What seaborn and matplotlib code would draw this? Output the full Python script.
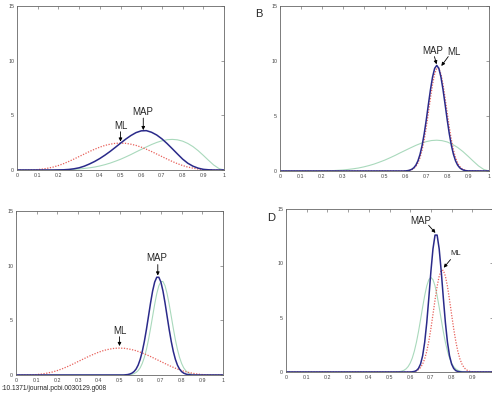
import matplotlib
matplotlib.use("Agg")
import matplotlib.pyplot as plt
import seaborn as sns

# sample positions
x_wide = [0.0, 0.025, 0.05, 0.075, 0.1, 0.125, 0.15, 0.175, 0.2, 0.225, 0.25, 0.275,
          0.3, 0.325, 0.35, 0.375, 0.4, 0.425, 0.45, 0.475, 0.5, 0.525, 0.55, 0.575,
          0.6, 0.625, 0.65, 0.675, 0.7, 0.725, 0.75, 0.775, 0.8, 0.825, 0.85, 0.875,
          0.9, 0.925, 0.95, 0.975, 1.0]
x_fine = [0.0, 0.5, 0.51, 0.52, 0.53, 0.54, 0.55, 0.56, 0.57, 0.58, 0.59, 0.6, 0.61,
          0.62, 0.63, 0.64, 0.65, 0.66, 0.67, 0.68, 0.69, 0.7, 0.71, 0.72, 0.73, 0.74,
          0.75, 0.76, 0.77, 0.78, 0.79, 0.8, 0.81, 0.82, 0.83, 0.84, 0.85, 0.86, 0.87,
          0.88, 0.89, 0.9, 1.0]

# wide curves (prior / broad likelihood)
green_wide = [0, 0, 0, 0, 0, 0, 0, 0, 0.01, 0.02, 0.03, 0.06, 0.09, 0.14, 0.2, 0.27,
              0.37, 0.49, 0.63, 0.8, 0.98, 1.19, 1.41, 1.65, 1.88, 2.11, 2.33, 2.52,
              2.67, 2.77, 2.8, 2.76, 2.64, 2.43, 2.14, 1.77, 1.34, 0.89, 0.46, 0.14, 0]
red_wide = [0, 0, 0, 0.01, 0.04, 0.09, 0.17, 0.27, 0.41, 0.58, 0.78, 1.0, 1.23, 1.46,
            1.69, 1.9, 2.09, 2.25, 2.36, 2.44, 2.46, 2.44, 2.36, 2.25, 2.09, 1.9, 1.69,
            1.46, 1.23, 1.0, 0.78, 0.58, 0.41, 0.27, 0.17, 0.09, 0.04, 0.01, 0, 0, 0]
blue_A = [0, 0, 0, 0, 0, 0, 0, 0, 0.01, 0.02, 0.05, 0.11, 0.2, 0.35, 0.55, 0.78, 1.05,
          1.36, 1.7, 2.07, 2.45, 2.82, 3.15, 3.42, 3.58, 3.6, 3.45, 3.2, 2.85, 2.42,
          1.95, 1.47, 1.0, 0.62, 0.35, 0.17, 0.06, 0.02, 0, 0, 0]

# narrow curves
blue_B = [0, 0, 0, 0, 0, 0, 0, 0, 0, 0, 0, 0.01, 0.03, 0.07, 0.15, 0.29, 0.53, 0.92,
          1.51, 2.33, 3.39, 4.66, 6.05, 7.40, 8.55, 9.33, 9.6, 9.33, 8.55, 7.40, 6.05,
          4.66, 3.39, 2.33, 1.51, 0.92, 0.53, 0.29, 0.15, 0.07, 0.03, 0.01, 0]
red_narrow = [0, 0, 0, 0, 0, 0, 0, 0, 0, 0, 0, 0.01, 0.02, 0.05, 0.11, 0.22, 0.41, 0.73,
              1.21, 1.91, 2.84, 3.99, 5.30, 6.64, 7.88, 8.82, 9.35, 9.35, 8.82, 7.88,
              6.64, 5.30, 3.99, 2.84, 1.91, 1.21, 0.73, 0.41, 0.22, 0.11, 0.05, 0.02, 0]
blue_C = [0, 0, 0, 0, 0.02, 0.04, 0.09, 0.17, 0.31, 0.54, 0.90, 1.43, 2.15, 3.07, 4.16,
          5.37, 6.59, 7.68, 8.50, 8.94, 8.94, 8.50, 7.68, 6.59, 5.37, 4.16, 3.07, 2.15,
          1.43, 0.90, 0.54, 0.31, 0.17, 0.09, 0.04, 0.02, 0, 0, 0, 0, 0, 0, 0]
green_C = [0, 0, 0, 0, 0, 0, 0.03, 0.07, 0.12, 0.23, 0.40, 0.66, 1.06, 1.61, 2.33, 3.22,
           4.26, 5.37, 6.47, 7.44, 8.16, 8.55, 8.55, 8.16, 7.44, 6.47, 5.37, 4.26, 3.22,
           2.33, 1.61, 1.06, 0.66, 0.40, 0.23, 0.12, 0.07, 0.03, 0, 0, 0, 0, 0]
green_D = [0, 0, 0, 0, 0.01, 0.02, 0.04, 0.085, 0.16, 0.29, 0.50, 0.82, 1.28, 1.92, 2.73,
           3.71, 4.82, 5.96, 7.03, 7.92, 8.50, 8.7, 8.50, 7.92, 7.03, 5.96, 4.82, 3.71,
           2.73, 1.92, 1.28, 0.82, 0.50, 0.29, 0.16, 0.085, 0.04, 0.02, 0, 0, 0, 0, 0]
blue_D = [0, 0, 0, 0, 0, 0, 0, 0, 0, 0, 0, 0, 0.02, 0.05, 0.13, 0.33, 0.73, 1.49, 2.74,
          4.55, 6.82, 9.25, 11.33, 12.6, 12.6, 11.33, 9.25, 6.82, 4.55, 2.74, 1.49, 0.73,
          0.33, 0.13, 0.05, 0.02, 0, 0, 0, 0, 0, 0, 0]

x_ticks = [0, 0.1, 0.2, 0.3, 0.4, 0.5, 0.6, 0.7, 0.8, 0.9, 1]
x_labels = ["0", "0.1", "0.2", "0.3", "0.4", "0.5", "0.6", "0.7", "0.8", "0.9", "1"]
y_ticks = [0, 5, 10, 15]

GREEN = "#a9d9bc"
RED = "#e8605a"
BLUE = "#2a2a8a"

sns.set_style("white")
plt.rcParams['font.family'] = ['Liberation Sans', 'DejaVu Sans']

fig = plt.figure(figsize=(4.92, 3.93), dpi=100)
W, H = 492, 393


def make_ax(l, r, t, b, labels=x_labels):
    ax = fig.add_axes([l / W, 1 - b / H, (r - l) / W, (b - t) / H])
    ax.set_xlim(0, 1)
    ax.set_ylim(0, 15)
    ax.set_xticks(x_ticks)
    ax.set_xticklabels(labels)
    ax.set_yticks(y_ticks)
    ax.tick_params(direction="in", length=2, width=0.4, top=True, right=True,
                   labelsize=3.8, pad=2, labelcolor="#444444", color="#555555")
    for s in ax.spines.values():
        s.set_color("#666666")
        s.set_linewidth(0.6)
    return ax


def curves(ax, green, gx, red, rx, blue, bx):
    sns.lineplot(x=gx, y=green, ax=ax, color=GREEN, linewidth=0.8)
    sns.lineplot(x=rx, y=red, ax=ax, color=RED, linewidth=0.9, linestyle=(0, (1, 1.2)))
    sns.lineplot(x=bx, y=blue, ax=ax, color=BLUE, linewidth=1.1)


def note(ax, label, txt_xy, tail, tip, size=7):
    ax.text(txt_xy[0], txt_xy[1], label, ha="center", va="center", fontsize=size)
    ax.annotate("", xy=tip, xytext=tail,
                arrowprops=dict(arrowstyle="-|>", color="k", lw=0.6, mutation_scale=5,
                                shrinkA=0, shrinkB=0))


axA = make_ax(17, 224, 6, 170)
curves(axA, green_wide, x_wide, red_wide, x_wide, blue_A, x_wide)
note(axA, "MAP", (0.609, 5.3), (0.61, 4.75), (0.61, 3.65))
note(axA, "ML", (0.50, 4.0), (0.50, 3.5), (0.50, 2.6))

axB = make_ax(280, 489, 6, 171)
curves(axB, green_wide, x_wide, red_narrow, x_fine, blue_B, x_fine)
note(axB, "MAP", (0.729, 10.9), (0.739, 10.4), (0.749, 9.7))
note(axB, "ML", (0.83, 10.8), (0.805, 10.4), (0.772, 9.55))

axC = make_ax(16, 223, 211, 375)
curves(axC, green_C, x_fine, red_wide, x_wide, blue_C, x_fine)
note(axC, "MAP", (0.68, 10.7), (0.685, 10.1), (0.685, 9.1))
note(axC, "ML", (0.50, 4.0), (0.50, 3.5), (0.50, 2.65))

# panel D runs past the right edge of the picture, its "1" label is not shown
axD = make_ax(286, 493, 209, 372, labels=x_labels[:-1] + [""])
curves(axD, green_D, x_fine, red_narrow, x_fine, blue_D, x_fine)
note(axD, "MAP", (0.652, 13.9), (0.689, 13.5), (0.722, 12.8))
note(axD, "ML", (0.82, 10.9), (0.795, 10.35), (0.762, 9.6), size=5.5)

fig.text(259 / W, 1 - 14 / H, "B", fontsize=8, ha="center", va="center")
fig.text(271 / W, 1 - 218 / H, "D", fontsize=8, ha="center", va="center")
fig.text(1 / W, 1 - 389 / H, ":10.1371/journal.pcbi.0030129.g008",
         fontsize=4.8, ha="left", va="center")

fig.savefig("out.png", dpi=100)
